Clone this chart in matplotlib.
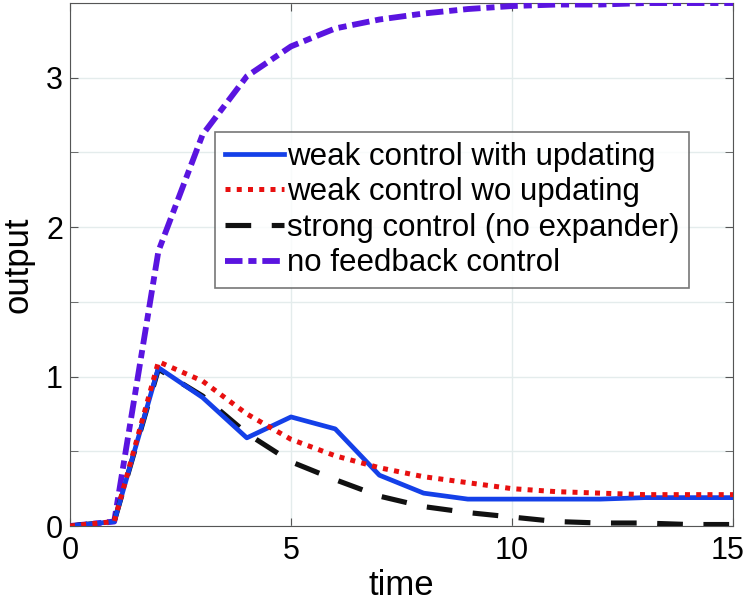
import numpy as np
import matplotlib.pyplot as plt
import matplotlib.transforms as mtransforms

plt.rcParams['font.family'] = ['Liberation Sans', 'DejaVu Sans']

t = np.arange(16)
weak_upd = [0, 0.03, 1.06, 0.86, 0.59, 0.73, 0.65, 0.34, 0.22, 0.18, 0.18, 0.18, 0.18, 0.19, 0.19, 0.19]
weak_wo = [0, 0.03, 1.1, 0.97, 0.75, 0.58, 0.47, 0.39, 0.33, 0.29, 0.25, 0.23, 0.22, 0.21, 0.21, 0.21]
strong = [0, 0.03, 1.05, 0.87, 0.62, 0.43, 0.31, 0.2, 0.13, 0.09, 0.06, 0.03, 0.02, 0.02, 0.01, 0.01]
no_fb = [0, 0.03, 1.84, 2.62, 3.01, 3.21, 3.33, 3.39, 3.43, 3.46, 3.48, 3.49, 3.49, 3.5, 3.5, 3.5]

fig = plt.figure(figsize=(7.48, 6.12), dpi=100)
ax = fig.add_axes([0.0936, 0.1405, 0.8864, 0.8545])

ax.plot(t, no_fb, color='#5a14e0', lw=4.2, linestyle=(0, (3, 1, 1.4, 1)), label='no feedback control', zorder=3)
ax.plot(t, strong, color='#111111', lw=3.7, linestyle=(0, (5, 4)), label='strong control (no expander)', zorder=4)
ax.plot(t, weak_upd, color='#1440e8', lw=3.4, label='weak control with updating', zorder=5)
ax.plot(t, weak_wo, color='#e81010', lw=3.6, linestyle=(0, (1, 1.25)), label='weak control wo updating', zorder=6)

ax.set_xlim(0, 15)
ax.set_ylim(0, 3.5)
ax.set_xticks([0, 5, 10, 15])
ax.set_yticks([0, 1, 2, 3])
ax.set_yticks(np.arange(0, 3.51, 0.5), minor=True)
ax.grid(True, which='both', color='#e4ecec', lw=1)
ax.set_axisbelow(True)
ax.tick_params(which='both', direction='in', top=True, right=True, labelsize=22, color='#555555', length=6)
ax.tick_params(axis='x', pad=7)
ax.tick_params(axis='y', pad=5)
for s in ax.spines.values():
    s.set_color('#555555')
ax.set_xlabel('time', fontsize=25, labelpad=2)
ax.set_ylabel('output', fontsize=25, labelpad=8)

# last x label sits right at the figure edge, nudge it in a bit
last = ax.get_xticklabels()[-1]
last.set_transform(last.get_transform() + mtransforms.ScaledTranslation(-4 / 72, 0, fig.dpi_scale_trans))

h, l = ax.get_legend_handles_labels()
order = [2, 3, 1, 0]
leg = ax.legend([h[i] for i in order], [l[i] for i in order], loc='upper left',
                bbox_to_anchor=(0.219, 0.753), fontsize=22.5, frameon=True, fancybox=False,
                edgecolor='#555555', handlelength=1.9, handletextpad=0.1, labelspacing=0.18,
                borderpad=0.3, borderaxespad=0)
leg.get_frame().set_linewidth(1.2)

fig.savefig('out.png', dpi=100)
